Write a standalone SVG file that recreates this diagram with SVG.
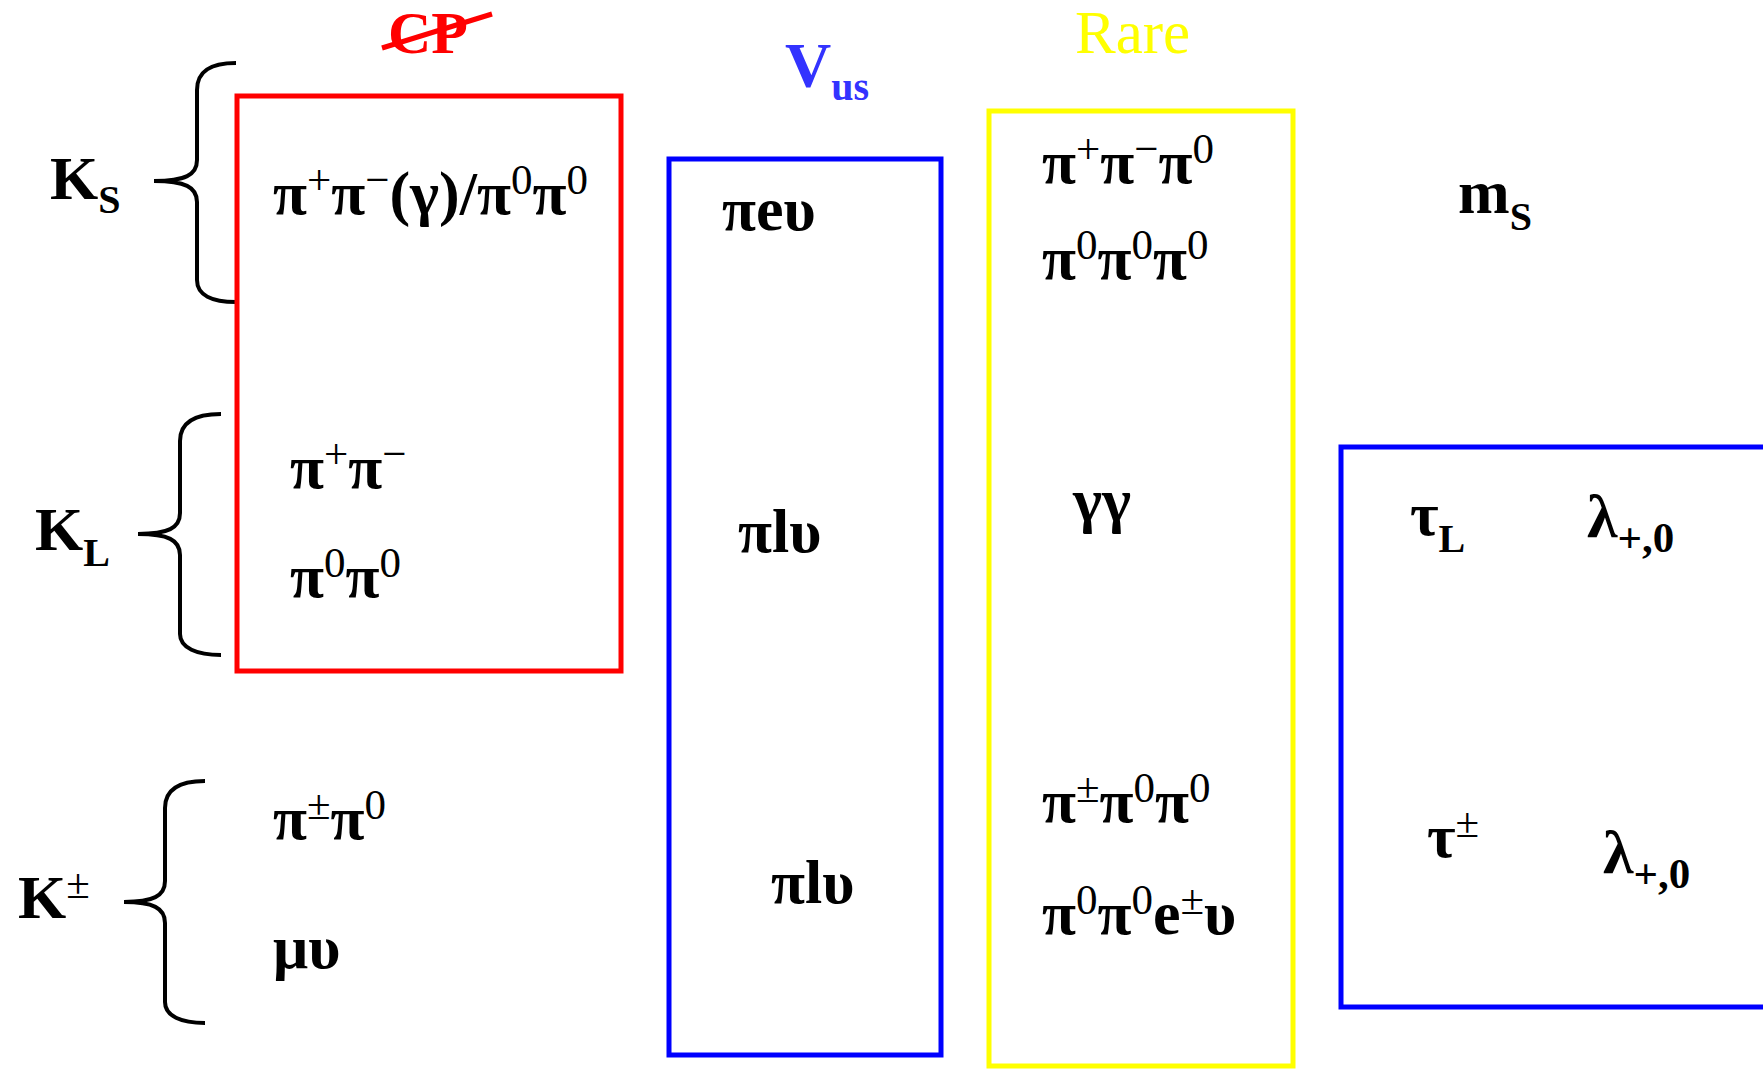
<svg xmlns="http://www.w3.org/2000/svg" width="1763" height="1069" viewBox="0 0 1763 1069">
<style>
  text { font-family: "Liberation Serif", "Times New Roman", serif; font-weight: bold; fill: #000; }
  .k { font-size: 62px; }
  .sub { font-size: 40px; }
  .d { font-size: 62px; }
  .sup { font-size: 43px; font-weight: normal; }
  .box { fill: none; stroke-width: 5; }
  .brace { fill: none; stroke: #000; stroke-width: 4; stroke-linecap: butt; }
</style>
<rect width="1763" height="1069" fill="#fff"/>

<g id="connectors">
  <path class="brace" d="M236,63 C212,63 197,70 197,90 L197,160 C197,175 185,181 154,181 C185,181 197,187 197,202 L197,280 C197,295 212,302 236,302"/>
  <path class="brace" d="M221,414 C197,414 180,421 180,441 L180,513 C180,528 168,534 138,534 C168,534 180,540 180,555 L180,634 C180,648 197,655 221,655"/>
  <path class="brace" d="M205,781 C181,781 165,788 165,808 L165,881 C165,896 153,902 124,902 C153,902 165,908 165,923 L165,1002 C165,1016 181,1023 205,1023"/>
</g>

<g id="header-cp">
  <text x="388" y="53" style="font-size:60px;fill:#f00">CP</text>
  <line x1="382" y1="48" x2="492" y2="14" stroke="#f00" stroke-width="5"/>
</g>
<g id="header-vus">
  <text x="785" y="87" style="font-size:64px;fill:#33f">V<tspan class="sub" dy="13">us</tspan></text>
</g>
<g id="header-rare">
  <text x="1075" y="53" style="font-size:61px;font-weight:normal;fill:#ff0">Rare</text>
</g>
<g id="header-ms">
  <text x="1458" y="213" class="k">m<tspan class="sub" dy="17">S</tspan></text>
</g>

<g id="label-ks">
  <text x="50" y="199" class="k">K<tspan class="sub" dy="14">S</tspan></text>
</g>
<g id="label-kl">
  <text x="35" y="550" class="k">K<tspan class="sub" dy="16">L</tspan></text>
</g>
<g id="label-kpm">
  <text x="18" y="918" class="k">K<tspan class="sup" dy="-20">±</tspan></text>
</g>

<g id="box-cp">
  <rect class="box" x="237" y="96" width="384" height="575" stroke="#f00"/>
  <text class="d" x="273" y="214">π<tspan class="sup" dy="-20">+</tspan><tspan dy="20">π</tspan><tspan class="sup" dy="-20">−</tspan><tspan dy="20">(γ)/π</tspan><tspan class="sup" dy="-20">0</tspan><tspan dy="20">π</tspan><tspan class="sup" dy="-20">0</tspan></text>
  <text class="d" x="290" y="488">π<tspan class="sup" dy="-20">+</tspan><tspan dy="20">π</tspan><tspan class="sup" dy="-20">−</tspan></text>
  <text class="d" x="290" y="597">π<tspan class="sup" dy="-20">0</tspan><tspan dy="20">π</tspan><tspan class="sup" dy="-20">0</tspan></text>
</g>

<g id="charged-decays">
  <text class="d" x="273" y="839">π<tspan class="sup" dy="-20">±</tspan><tspan dy="20">π</tspan><tspan class="sup" dy="-20">0</tspan></text>
  <text class="d" x="273" y="968">μυ</text>
</g>

<g id="box-vus">
  <rect class="box" x="669" y="159" width="272" height="896" stroke="#00f"/>
  <text class="d" x="722" y="230">πeυ</text>
  <text class="d" x="738" y="552">πlυ</text>
  <text class="d" x="771" y="903">πlυ</text>
</g>

<g id="box-rare">
  <rect class="box" x="989" y="111" width="304" height="955" stroke="#ff0"/>
  <text class="d" x="1042" y="183">π<tspan class="sup" dy="-20">+</tspan><tspan dy="20">π</tspan><tspan class="sup" dy="-20">−</tspan><tspan dy="20">π</tspan><tspan class="sup" dy="-20">0</tspan></text>
  <text class="d" x="1042" y="279">π<tspan class="sup" dy="-20">0</tspan><tspan dy="20">π</tspan><tspan class="sup" dy="-20">0</tspan><tspan dy="20">π</tspan><tspan class="sup" dy="-20">0</tspan></text>
  <text class="d" x="1073" y="521">γγ</text>
  <text class="d" x="1042" y="822">π<tspan class="sup" dy="-20">±</tspan><tspan dy="20">π</tspan><tspan class="sup" dy="-20">0</tspan><tspan dy="20">π</tspan><tspan class="sup" dy="-20">0</tspan></text>
  <text class="d" x="1042" y="934">π<tspan class="sup" dy="-20">0</tspan><tspan dy="20">π</tspan><tspan class="sup" dy="-20">0</tspan><tspan dy="20">e</tspan><tspan class="sup" dy="-20">±</tspan><tspan dy="20">υ</tspan></text>
</g>

<g id="box-ms">
  <rect class="box" x="1341" y="447" width="450" height="560" stroke="#00f"/>
  <text class="d" x="1410" y="535">τ<tspan class="sub" dy="17">L</tspan></text>
  <text class="d" x="1587" y="537">λ<tspan class="sub" dy="15" style="font-size:43px">+,0</tspan></text>
  <text class="d" x="1427" y="857">τ<tspan class="sup" dy="-20">±</tspan></text>
  <text class="d" x="1603" y="873">λ<tspan class="sub" dy="15" style="font-size:43px">+,0</tspan></text>
</g>
</svg>
